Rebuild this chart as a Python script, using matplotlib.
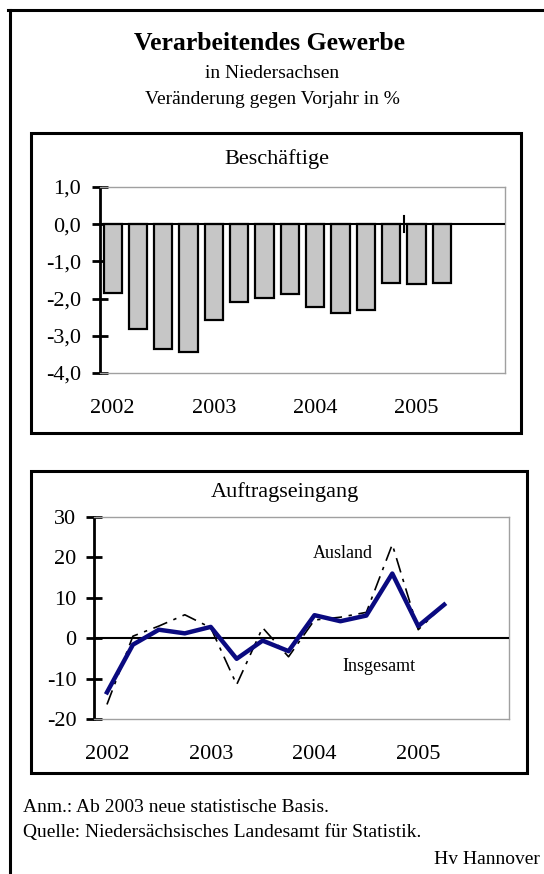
import numpy as np
import matplotlib
matplotlib.use('Agg')
import matplotlib.pyplot as plt
from matplotlib.patches import Rectangle
from matplotlib.lines import Line2D

plt.rcParams['font.family'] = ['Liberation Serif', 'DejaVu Serif']

# ---------------------------------------------------------------------------
# data: quarterly values 2002 Q1 .. 2005 Q2
years        = ['2002', '2003', '2004', '2005']
beschaeftige = [-1.84, -2.82, -3.36, -3.43, -2.57, -2.09, -1.98, -1.87,
                -2.22, -2.40, -2.31, -1.59, -1.61, -1.57]
insgesamt    = [-13.4, -1.6, 2.1, 1.2, 2.8, -5.1, -0.6, -3.2,
                5.7, 4.2, 5.6, 16.0, 3.0, 8.3]
ausland      = [-16.4, 0.5, 3.0, 5.8, 2.6, -11.5, 2.6, -4.6,
                4.5, 5.2, 6.4, 23.2, 2.1, 8.3]

W, H = 544, 874
DPI  = 100
fig = plt.figure(figsize=(W / DPI, H / DPI), dpi=DPI)


def px_axes(x0, y0, x1, y1):
    """axes from pixel box (top-left origin)"""
    return fig.add_axes([x0 / W, 1 - y1 / H, (x1 - x0) / W, (y1 - y0) / H])


def px_rect(x0, y0, x1, y1, lw=2.2):
    fig.patches.append(Rectangle((x0 / W, 1 - y1 / H), (x1 - x0) / W, (y1 - y0) / H,
                                 transform=fig.transFigure, fill=False,
                                 ec='black', lw=lw))


def px_text(x, y, s, **kw):
    fig.text(x / W, 1 - y / H, s, **kw)


def style_axes(ax, ymin, ymax, ystep, fmt, pad):
    ax.set_xlim(0, 16)
    ax.set_ylim(ymin, ymax)
    ticks = np.arange(ymin, ymax + ystep / 2, ystep)
    ax.set_yticks(ticks)
    ax.set_yticklabels([fmt(v) for v in ticks])
    ax.set_xticks([0.5 + 4 * i for i in range(len(years))])
    ax.set_xticklabels(years)
    for s in ['top', 'right', 'bottom']:
        ax.spines[s].set_color('#a0a0a0')
        ax.spines[s].set_linewidth(1.0)
    ax.spines['left'].set_linewidth(2.0)
    ax.tick_params(axis='y', direction='inout', length=11.5, width=2.0,
                   labelsize=16, pad=pad)
    ax.tick_params(axis='x', length=0, labelsize=16, pad=19)
    ax.axhline(0, color='black', lw=1.5, zorder=3)


# outer frame (top + left only)
fig.add_artist(Line2D([8 / W, 1], [1 - 9.5 / H] * 2, transform=fig.transFigure,
                      color='black', lw=2.2))
fig.add_artist(Line2D([9.5 / W] * 2, [0, 1 - 9.5 / H], transform=fig.transFigure,
                      color='black', lw=2.2))

px_text(270, 43, 'Verarbeitendes Gewerbe', ha='center', va='center',
        fontsize=18.5, fontweight='bold')
px_text(272, 73, 'in Niedersachsen', ha='center', va='center', fontsize=14)
px_text(272, 100, 'Veränderung gegen Vorjahr in %', ha='center', va='center',
        fontsize=14)

# --- Beschäftige ---------------------------------------------------------
px_rect(31, 133, 521, 433)
px_text(277, 159, 'Beschäftige', ha='center', va='center', fontsize=16)
ax1 = px_axes(100, 187, 505, 373)
x = np.arange(len(beschaeftige)) + 0.5
ax1.bar(x, beschaeftige, width=0.72, color='#c6c6c6', edgecolor='black',
        linewidth=1.6, zorder=2)
style_axes(ax1, -4.0, 1.0, 1.0, lambda v: f'{v:.1f}'.replace('.', ','), pad=8)
ax1.plot([12, 12], [0.22, -0.2], color='black', lw=1.5, zorder=4)

# --- Auftragseingang -----------------------------------------------------
px_rect(31, 471, 527, 773)
px_text(285, 492, 'Auftragseingang', ha='center', va='center', fontsize=16)
ax2 = px_axes(94, 517, 509, 719)
x = np.arange(len(insgesamt)) + 0.5
ax2.plot(x, ausland, color='black', lw=1.2, ls=(0, (9, 4, 2, 4)), zorder=4)
ax2.plot(x, insgesamt, color='#0a0a80', lw=3.2, zorder=5)
style_axes(ax2, -20, 30, 10, lambda v: f'{v:.0f}', pad=7)
ax2.text(9.6, 21, 'Ausland', ha='center', va='center', fontsize=13)
ax2.text(11.0, -7.1, 'Insgesamt', ha='center', va='center', fontsize=13)

# --- footnotes -----------------------------------------------------------
px_text(23, 807, 'Anm.: Ab 2003 neue statistische Basis.', ha='left',
        va='center', fontsize=14)
px_text(23, 833, 'Quelle: Niedersächsisches Landesamt für Statistik.', ha='left',
        va='center', fontsize=14)
px_text(540, 860, 'Hv Hannover', ha='right', va='center', fontsize=14)

fig.savefig('out.png', dpi=DPI)
